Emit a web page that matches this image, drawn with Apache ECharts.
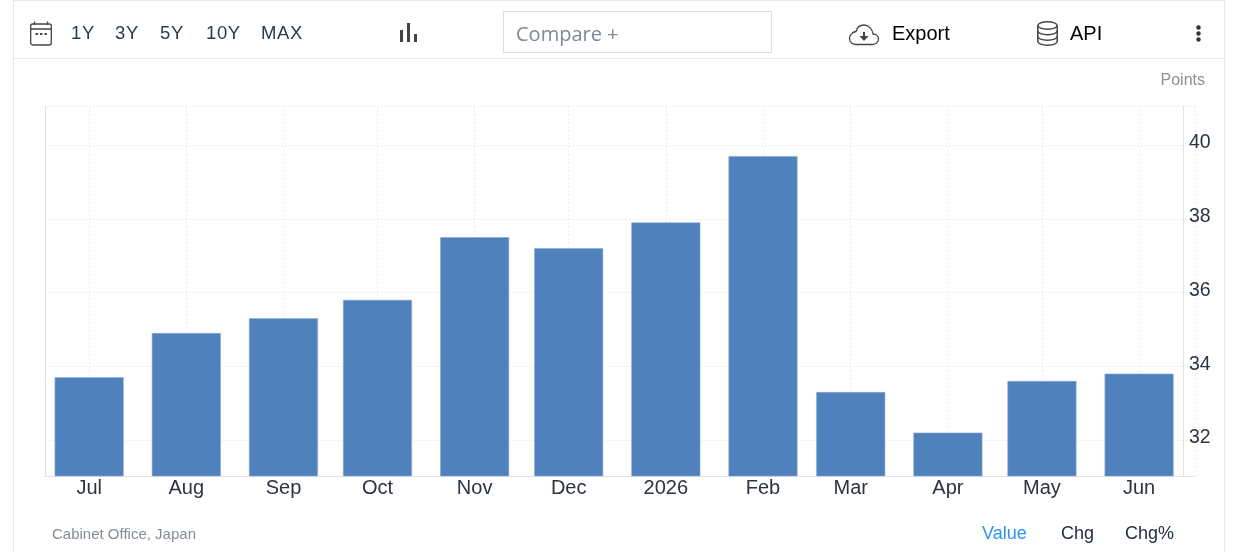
<!DOCTYPE html>
<html>
<head>
<meta charset="utf-8">
<script src="https://cdn.jsdelivr.net/npm/echarts@6/dist/echarts.min.js"></script>
<style>
html,body{margin:0;padding:0;background:#fff;width:1235px;height:552px;overflow:hidden;font-family:"Liberation Sans",Arial,sans-serif}
#chart{position:absolute;left:0;top:0;width:1235px;height:552px}
.frame{position:absolute;background:#e6e8ec}
.t{position:absolute;white-space:nowrap;line-height:24px;height:24px;top:21px}
.r{font-size:18.5px;color:#2c3a4d;letter-spacing:.6px}
.k{font-size:20px;color:#000}
svg{position:absolute;overflow:visible}
</style>
</head>
<body>
<div id="chart"></div>
<div class="frame" style="left:13px;top:0;width:1px;height:552px"></div>
<div class="frame" style="left:1224px;top:0;width:1px;height:552px"></div>
<div class="frame" style="left:13px;top:0;width:1212px;height:1px"></div>
<div class="frame" style="left:13px;top:58px;width:1212px;height:1px"></div>

<svg style="left:30px;top:21px" width="22" height="25" viewBox="0 0 22 25" fill="none" stroke="#444" stroke-width="1.3">
  <rect x="0.7" y="3" width="20.6" height="21" rx="2"/>
  <path d="M0.7 8H21.3M4.5 0.5V4M17.5 0.5V4"/>
  <path d="M5.5 13h2.4M10 13h2.4M14.5 13h2.4" stroke-width="2"/>
</svg>
<div class="t r" style="left:71px">1Y</div>
<div class="t r" style="left:115px">3Y</div>
<div class="t r" style="left:160px">5Y</div>
<div class="t r" style="left:206px">10Y</div>
<div class="t r" style="left:261px">MAX</div>
<svg style="left:400px;top:23px" width="18" height="20" fill="#444">
  <rect x="0" y="7" width="3" height="12"/><rect x="7" y="0" width="3" height="19"/><rect x="14" y="11" width="3" height="8"/>
</svg>
<div style="position:absolute;left:503px;top:11px;width:267px;height:40px;border:1px solid #dedede"></div>
<div class="t" style="left:516px;top:22px;font:20px/24px 'Open Sans',sans-serif;color:#808890">Compare +</div>
<svg style="left:849px;top:24px" width="30" height="22" viewBox="0 0 30 22" fill="none" stroke="#444" stroke-width="1.3">
  <path d="M7 20.5H23.5C27 20.5 29.5 18 29.5 15C29.5 12 27 10 24 10C23.5 5 19.5 1 15 1C11 1 8 3.5 7 7.5C3.5 8 0.5 11 0.5 14.5C0.5 18 3.5 20.5 7 20.5Z"/>
  <path d="M15 8V13" stroke-width="2"/><path d="M10.5 12H19.5L15 17Z" fill="#444" stroke="none"/>
</svg>
<div class="t k" style="left:892px">Export</div>
<svg style="left:1037px;top:21px" width="21" height="25" viewBox="0 0 21 25" fill="none" stroke="#444" stroke-width="1.5">
  <ellipse cx="10.5" cy="4.5" rx="9.7" ry="3.7"/>
  <path d="M0.8 4.5V20.5C0.8 22.5 5 24.2 10.5 24.2S20.2 22.5 20.2 20.5V4.5"/>
  <path d="M0.8 10C0.8 12 5 13.7 10.5 13.7S20.2 12 20.2 10M0.8 15.5C0.8 17.5 5 19.2 10.5 19.2S20.2 17.5 20.2 15.5"/>
</svg>
<div class="t k" style="left:1070px">API</div>
<svg style="left:1195px;top:25px" width="8" height="18" fill="#333">
  <circle cx="3.5" cy="2.5" r="2.2"/><circle cx="3.5" cy="8.5" r="2.2"/><circle cx="3.5" cy="14.5" r="2.2"/>
</svg>

<script>
var months = ['2025-07-01','2025-08-01','2025-09-01','2025-10-01','2025-11-01','2025-12-01','2026-01-01','2026-02-01','2026-03-01','2026-04-01','2026-05-01','2026-06-01'];
var values = [33.7,34.9,35.3,35.8,37.5,37.2,37.9,39.7,33.3,32.2,33.6,33.8];
var monthNames = ['Jan','Feb','Mar','Apr','May','Jun','Jul','Aug','Sep','Oct','Nov','Dec'];
var xStart = '2025-06-27 22:00:00';
var xEnd = '2026-06-07 20:00:00';
var yMin = 31.024;
var yMax = 41.058;

var chart = echarts.init(document.getElementById('chart'), null, {renderer:'canvas'});
var F = '"Liberation Sans",Arial,sans-serif';
chart.setOption({
  animation:false,
  backgroundColor:'#fff',
  title:[
    {text:'Points',right:25,top:68,textStyle:{fontFamily:F,fontSize:16,fontWeight:'normal',color:'#8a9099'}},
    {text:'Cabinet Office, Japan',left:47,top:522,textStyle:{fontFamily:F,fontSize:15,fontWeight:'normal',color:'#868c96'}},
    {text:'Value',left:977,top:520,textStyle:{fontFamily:F,fontSize:18,fontWeight:'normal',color:'#2b95ef'}},
    {text:'Chg',left:1056,top:520,textStyle:{fontFamily:F,fontSize:18,fontWeight:'normal',color:'#22303f'}},
    {text:'Chg%',left:1120,top:520,textStyle:{fontFamily:F,fontSize:18,fontWeight:'normal',color:'#22303f'}}
  ],
  grid:{left:45,right:40,top:106,bottom:76,containLabel:false},
  xAxis:{
    type:'time',min:xStart,max:xEnd,splitNumber:12,
    axisLine:{show:true,lineStyle:{color:'#e2e2e2',width:1}},
    axisTick:{show:false},
    axisLabel:{
      margin:2,fontFamily:F,fontSize:20,color:'#2b3440',hideOverlap:false,showMinLabel:false,showMaxLabel:false,
      formatter:function(v){var d=new Date(v);return d.getMonth()===0?String(d.getFullYear()):monthNames[d.getMonth()];}
    },
    splitLine:{show:true,lineStyle:{color:'#eeeeee',type:[2,2],width:1}}
  },
  yAxis:[{
    type:'value',position:'right',offset:-12,min:yMin,max:yMax,
    axisLine:{show:true,onZero:false,lineStyle:{color:'#e2e2e2',width:1}},
    axisTick:{show:false},
    axisLabel:{margin:6,fontFamily:F,fontSize:19.5,color:'#2b3440',verticalAlign:'bottom',lineHeight:4,showMinLabel:false,showMaxLabel:false},
    splitLine:{show:true,lineStyle:{color:'#eeeeee',type:[2,2],width:1}}
  },{
    type:'value',position:'left',min:yMin,max:yMax,
    axisLine:{show:true,onZero:false,lineStyle:{color:'#e2e2e2',width:1}},
    axisTick:{show:false},axisLabel:{show:false},splitLine:{show:false}
  }],
  series:[{
    type:'bar',
    data:months.map(function(m,i){return [m,values[i]];}),
    barWidth:69,
    itemStyle:{color:'#4f81bd',borderColor:'#8aa9d3',borderWidth:0.6}
  }]
});
</script>
</body>
</html>
